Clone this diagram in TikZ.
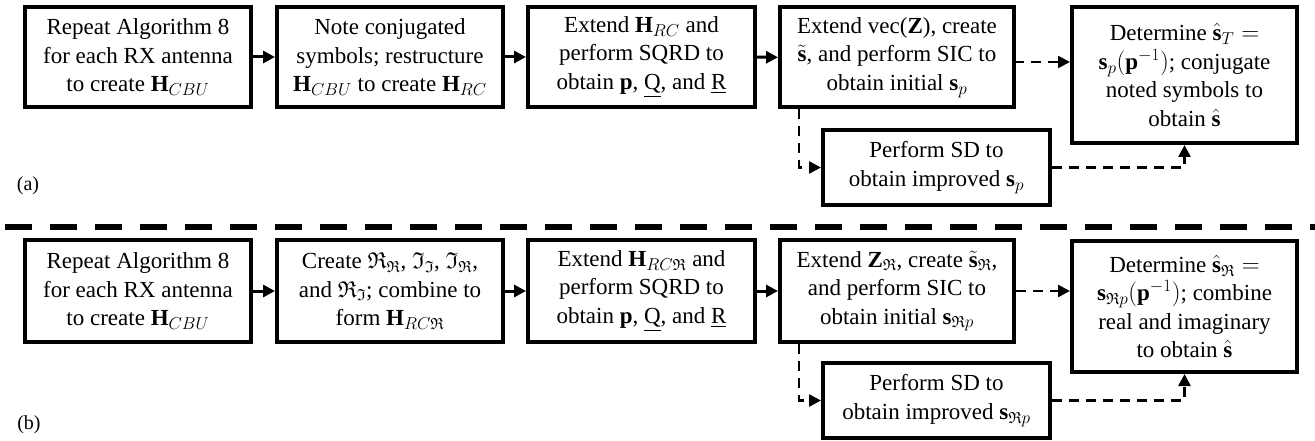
\documentclass[tikz,border=0pt]{standalone}
\usepackage{amssymb}
\usepackage{fontspec}
\setmainfont{Liberation Serif}
\setmathrm{Liberation Serif}
\usetikzlibrary{arrows.meta}

\tikzset{
  box/.style={draw, line width=4pt, align=center, inner sep=0pt,
    font=\fontsize{23}{28.5}\selectfont},
  flowbox/.style={box, minimum width=226pt, minimum height=100pt},
  tip/.style={-{Triangle[length=12pt,width=12pt]}},
  solidarrow/.style={tip, line width=3pt},
  dasharrow/.style={tip, line width=2.5pt, dash pattern=on 10pt off 7pt},
  separator/.style={line width=6pt, dash pattern=on 27pt off 18pt},
  panel/.style={font=\fontsize{20}{24}\selectfont, inner sep=0pt}
}

\begin{document}
\begin{tikzpicture}[x=1pt, y=-1pt]
\useasboundingbox (0,0) rectangle (1315,441);

% ---------- (a) complex-valued receiver chain ----------
\node[flowbox] (a1) at (138,57)
  {Repeat Algorithm 8\\for each RX antenna\\to create $\mathbf{H}_{CBU}$};
\node[flowbox] (a2) at (390,57)
  {Note conjugated\\symbols; restructure\\$\mathbf{H}_{CBU}$ to create $\mathbf{H}_{RC}$};
\node[flowbox, minimum width=227pt] (a3) at (641.5,57)
  {Extend $\mathbf{H}_{RC}$ and\\perform SQRD to\\obtain $\mathbf{p}$, \underline{Q}, and \underline{R}};
\node[flowbox, minimum width=234pt] (a4) at (897,57.5)
  {Extend vec($\mathbf{Z}$), create\\$\tilde{\mathbf{s}}$, and perform SIC to\\obtain initial $\mathbf{s}_p$};
\node[box, minimum width=225pt, minimum height=136pt] (a5) at (1184.5,75)
  {Determine $\hat{\mathbf{s}}_T =$\\$\mathbf{s}_p(\mathbf{p}^{-1})$; conjugate\\noted symbols to\\obtain $\hat{\mathbf{s}}$};
\node[box, minimum width=227pt, minimum height=75pt] (a6) at (936.5,167.5)
  {Perform SD to\\obtain improved $\mathbf{s}_p$};
\coordinate (a4down) at (799,0);
\coordinate (a4out) at (1014,62);

\draw[solidarrow] (a1) -- (a2);
\draw[solidarrow] (a2) -- (a3);
\draw[solidarrow] (a3) -- (a4);
\draw[dasharrow] (a4out) -- (a4out -| a5.west);
\draw[dasharrow] (a4down |- a4.south) |- (a6.west);
\draw[dasharrow] (a6.east) -| (a5.south);

\node[panel] (la) at (28,186) {(a)};

% ---------- divider ----------
\coordinate (sepL) at (5,227);
\coordinate (sepR) at (1315,227);
\draw[separator] (sepL) -- (sepR);

% ---------- (b) real-valued receiver chain ----------
\node[flowbox, minimum height=102pt] (b1) at (138,291)
  {Repeat Algorithm 8\\for each RX antenna\\to create $\mathbf{H}_{CBU}$};
\node[flowbox, minimum height=102pt] (b2) at (390,291)
  {Create $\mathfrak{R}_{\mathfrak{R}}$, $\mathfrak{I}_{\mathfrak{I}}$, $\mathfrak{I}_{\mathfrak{R}}$,\\and $\mathfrak{R}_{\mathfrak{I}}$; combine to\\form $\mathbf{H}_{RC\mathfrak{R}}$};
\node[flowbox, minimum width=227pt, minimum height=102pt] (b3) at (641.5,291)
  {Extend $\mathbf{H}_{RC\mathfrak{R}}$ and\\perform SQRD to\\obtain $\mathbf{p}$, \underline{Q}, and \underline{R}};
\node[flowbox, minimum width=234pt, minimum height=102pt] (b4) at (897,291)
  {Extend $\mathbf{Z}_{\mathfrak{R}}$, create $\tilde{\mathbf{s}}_{\mathfrak{R}}$,\\and perform SIC to\\obtain initial $\mathbf{s}_{\mathfrak{R}p}$};
\node[box, minimum width=225pt, minimum height=131pt] (b5) at (1184.5,306.5)
  {Determine $\hat{\mathbf{s}}_{\mathfrak{R}} =$\\$\mathbf{s}_{\mathfrak{R}p}(\mathbf{p}^{-1})$; combine\\real and imaginary\\to obtain $\hat{\mathbf{s}}$};
\node[box, minimum width=227pt, minimum height=75pt] (b6) at (936.5,400.5)
  {Perform SD to\\obtain improved $\mathbf{s}_{\mathfrak{R}p}$};
\coordinate (b4down) at (799,0);

\draw[solidarrow] (b1) -- (b2);
\draw[solidarrow] (b2) -- (b3);
\draw[solidarrow] (b3) -- (b4);
\draw[dasharrow] (b4.east) -- (b4.east -| b5.west);
\draw[dasharrow] (b4down |- b4.south) |- (b6.west);
\draw[dasharrow] (b6.east) -| (b5.south);

\node[panel] (lb) at (29,425) {(b)};
\end{tikzpicture}
\end{document}
